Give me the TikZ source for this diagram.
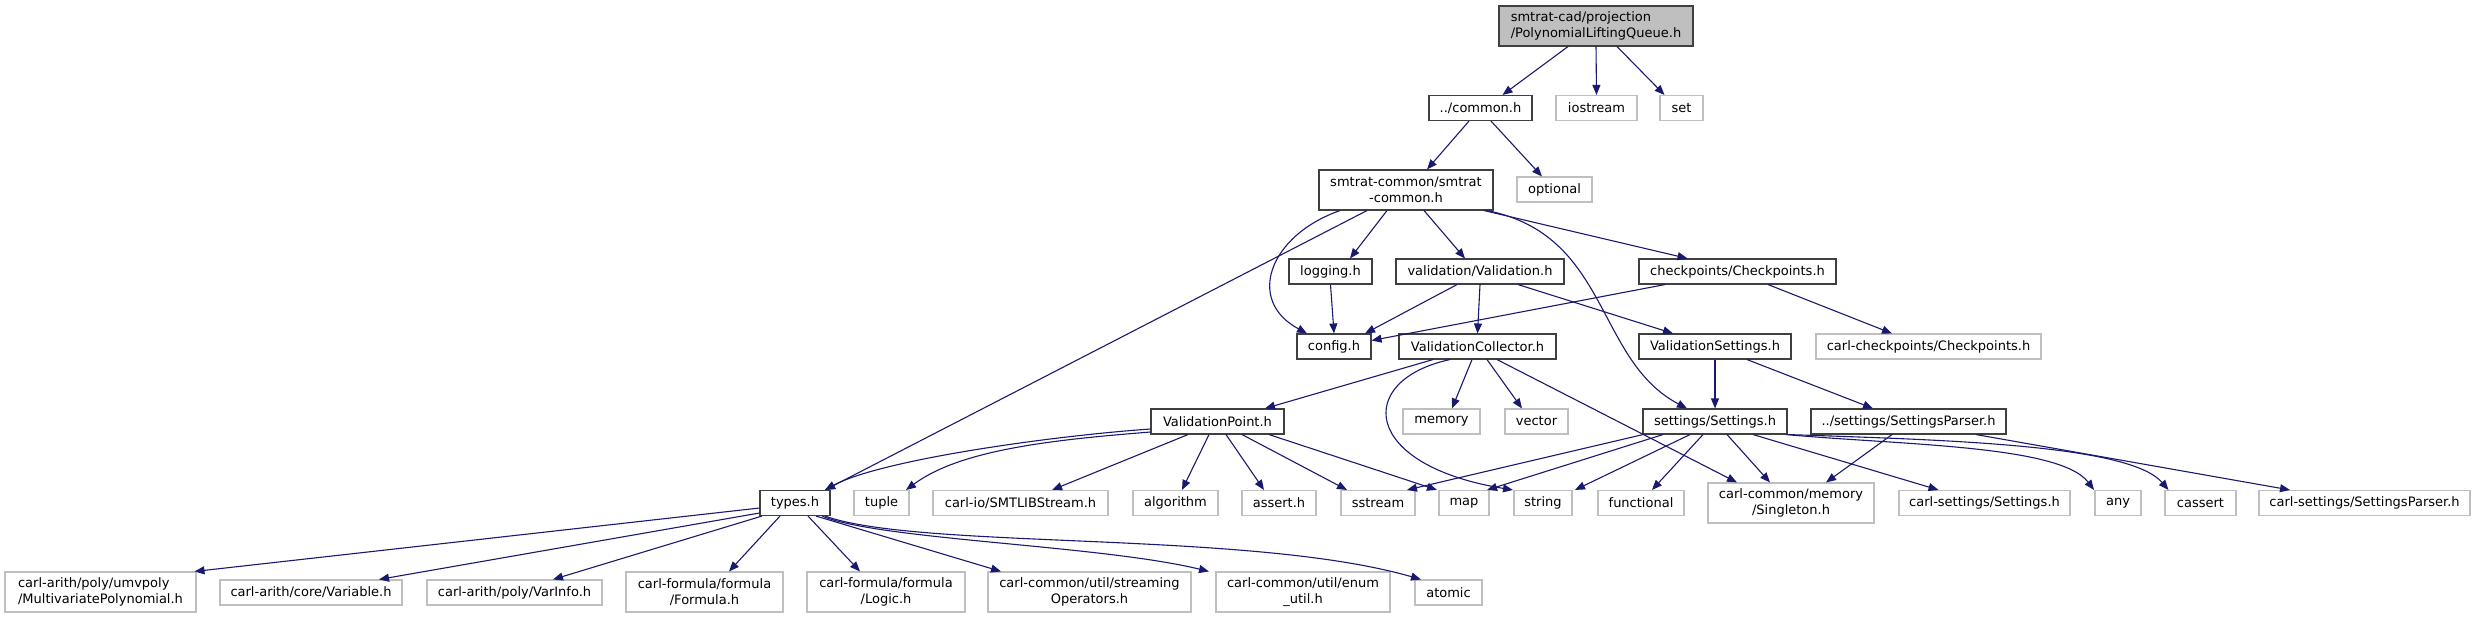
\documentclass[tikz,border=0pt]{standalone}
\usepackage{fontspec}
\setmainfont{DejaVu Sans}
\usetikzlibrary{arrows.meta}
\definecolor{midnight}{HTML}{191970}
\definecolor{boxline}{HTML}{404040}
\definecolor{sysline}{HTML}{BFBFBF}
\begin{document}
\begin{tikzpicture}[x=1pt,y=-1pt,
    font=\fontsize{13}{16}\selectfont,
    hdr/.style={draw=boxline, fill=white, line width=1.1pt, inner sep=0pt, minimum height=25pt, align=center},
    sys/.style={draw=sysline, fill=white, line width=1.1pt, inner sep=0pt, minimum height=25pt, align=center},
    root/.style={hdr, fill=sysline, minimum height=40pt, align=left},
    dep/.style={draw=midnight, line width=1.1pt, -{Triangle[length=10pt,width=8pt]}}]

    \useasboundingbox (0,0) rectangle (2475,619);

    % Root
    \node[root, minimum width=194pt] (plq) at (1596,26) {smtrat-cad/projection\\/PolynomialLiftingQueue.h};
    % Row 1
    \node[hdr, minimum width=103pt] (common) at (1480.5,108) {../common.h};
    \node[sys, minimum width=81pt] (iostream) at (1596.5,108) {iostream};
    \node[sys, minimum width=43pt] (set) at (1681.5,108) {set};
    % Row 2
    \node[hdr, minimum width=174pt, minimum height=40pt] (smtratcommon) at (1406,190) {smtrat-common/smtrat\\-common.h};
    \node[sys, minimum width=75pt] (optional) at (1554.5,189.5) {optional};
    % Row 3
    \node[hdr, minimum width=83pt] (logging) at (1330.5,271.5) {logging.h};
    \node[hdr, minimum width=168pt] (validation) at (1480,271.5) {validation/Validation.h};
    \node[hdr, minimum width=197pt] (checkpoints) at (1737.5,271.5) {checkpoints/Checkpoints.h};
    % Row 4
    \node[hdr, minimum width=74pt] (config) at (1334,346.5) {config.h};
    \node[hdr, minimum width=157pt] (vcollector) at (1477.5,346.5) {ValidationCollector.h};
    \node[hdr, minimum width=152pt] (vsettings) at (1715,346.5) {ValidationSettings.h};
    \node[sys, minimum width=225pt] (carlcheckpoints) at (1928.5,346.5) {carl-checkpoints/Checkpoints.h};
    % Row 5
    \node[hdr, minimum width=133pt] (vpoint) at (1217.5,421.5) {ValidationPoint.h};
    \node[sys, minimum width=77pt] (memory) at (1441.5,421.5) {memory};
    \node[sys, minimum width=63pt] (vector) at (1536.5,421.5) {vector};
    \node[hdr, minimum width=144pt] (settings) at (1715,421.5) {settings/Settings.h};
    \node[hdr, minimum width=195pt] (settingsparser) at (1908.5,421.5) {../settings/SettingsParser.h};
    % Row 6
    \node[hdr, minimum width=70pt] (types) at (795,503) {types.h};
    \node[sys, minimum width=55pt] (tuple) at (881.5,503) {tuple};
    \node[sys, minimum width=175pt] (smtlib) at (1020.5,503) {carl-io/SMTLIBStream.h};
    \node[sys, minimum width=85pt] (algorithm) at (1175.5,503) {algorithm};
    \node[sys, minimum width=74pt] (asserth) at (1279,503) {assert.h};
    \node[sys, minimum width=74pt] (sstream) at (1378,503) {sstream};
    \node[sys, minimum width=50pt] (map) at (1464,503) {map};
    \node[sys, minimum width=58pt] (string) at (1543,503) {string};
    \node[sys, minimum width=86pt] (functional) at (1641,503) {functional};
    \node[sys, minimum width=166pt, minimum height=40pt] (singleton) at (1791,503) {carl-common/memory\\/Singleton.h};
    \node[sys, minimum width=171pt] (carlsettings) at (1984.5,503) {carl-settings/Settings.h};
    \node[sys, minimum width=46pt] (any) at (2118,503) {any};
    \node[sys, minimum width=71pt] (cassert) at (2200.5,503) {cassert};
    \node[sys, minimum width=211pt] (carlsettingsparser) at (2364.5,503) {carl-settings/SettingsParser.h};
    % Row 7
    \node[sys, minimum width=191pt, minimum height=40pt, align=left] (multipoly) at (100.5,592) {carl-arith/poly/umvpoly\\/MultivariatePolynomial.h};
    \node[sys, minimum width=182pt] (variable) at (311,592.5) {carl-arith/core/Variable.h};
    \node[sys, minimum width=175pt] (varinfo) at (514.5,592.5) {carl-arith/poly/VarInfo.h};
    \node[sys, minimum width=157pt, minimum height=40pt] (formula) at (704.5,592) {carl-formula/formula\\/Formula.h};
    \node[sys, minimum width=158pt, minimum height=40pt] (logic) at (886,592) {carl-formula/formula\\/Logic.h};
    \node[sys, minimum width=203pt, minimum height=40pt] (streaming) at (1089.5,592) {carl-common/util/streaming\\Operators.h};
    \node[sys, minimum width=174pt, minimum height=40pt] (enumutil) at (1303,592) {carl-common/util/enum\\\_util.h};
    \node[sys, minimum width=67pt] (atomic) at (1448.5,592.5) {atomic};

    % Root includes
    \draw[dep] ([xshift=-28pt]plq.south) -- ([xshift=22pt]common.north);
    \draw[dep] (plq.south) -- (iostream.north);
    \draw[dep] ([xshift=21pt]plq.south) -- ([xshift=-17pt]set.north);
    % common.h
    \draw[dep] ([xshift=-11.5pt]common.south) -- ([xshift=21pt]smtratcommon.north);
    \draw[dep] ([xshift=10.5pt]common.south) -- ([xshift=-12.5pt]optional.north);
    % smtrat-common.h
    \draw[dep] ([xshift=-66pt]smtratcommon.south) .. controls (1270,235) and (1245,300) .. ([xshift=-27pt]config.north);
    \draw[dep] ([xshift=-39pt]smtratcommon.south) -- ([xshift=30pt]types.north);
    \draw[dep] ([xshift=-19pt]smtratcommon.south) -- ([xshift=19.5pt]logging.north);
    \draw[dep] ([xshift=18pt]smtratcommon.south) -- ([xshift=-15pt]validation.north);
    \draw[dep] ([xshift=81pt]smtratcommon.south) .. controls (1610,235) and (1595,360) .. ([xshift=-28pt]settings.north);
    \draw[dep] ([xshift=78pt]smtratcommon.south) -- ([xshift=-50pt]checkpoints.north);
    % logging, validation, checkpoints
    \draw[dep] (logging.south) -- (config.north);
    \draw[dep] ([xshift=-23pt]validation.south) -- ([xshift=31pt]config.north);
    \draw[dep] (validation.south) -- (vcollector.north);
    \draw[dep] ([xshift=38pt]validation.south) -- ([xshift=-42pt]vsettings.north);
    \draw[dep] ([xshift=-72.5pt]checkpoints.south) -- ([yshift=6pt]config.east);
    \draw[dep] ([xshift=30.5pt]checkpoints.south) -- ([xshift=-36.5pt]carlcheckpoints.north);
    % ValidationCollector.h
    \draw[dep] ([xshift=-44.5pt]vcollector.south) -- ([xshift=47.5pt]vpoint.north);
    \draw[dep] ([xshift=-27.5pt]vcollector.south) .. controls (1355,380) and (1360,465) .. ([xshift=-30pt]string.north);
    \draw[dep] ([xshift=-5.5pt]vcollector.south) -- ([xshift=10.5pt]memory.north);
    \draw[dep] ([xshift=9.5pt]vcollector.south) -- ([xshift=-14.5pt]vector.north);
    \draw[dep] ([xshift=19.5pt]vcollector.south) -- ([xshift=-54pt]singleton.north);
    % ValidationSettings.h
    \draw[dep] (vsettings.south) -- (settings.north);
    \draw[dep] ([xshift=32pt]vsettings.south) -- ([xshift=-35.5pt]settingsparser.north);
    % ValidationPoint.h
    \draw[dep] ([yshift=-7.5pt]vpoint.west) .. controls (1050,436) and (880,460) .. ([xshift=30pt]types.north);
    \draw[dep] ([yshift=-10.5pt]vpoint.west) .. controls (1050,440) and (960,450) .. ([xshift=24.5pt]tuple.north);
    \draw[dep] ([xshift=-29.5pt]vpoint.south) -- ([xshift=31.5pt]smtlib.north);
    \draw[dep] ([xshift=-8.5pt]vpoint.south) -- ([xshift=6.5pt]algorithm.north);
    \draw[dep] ([xshift=8.5pt]vpoint.south) -- ([xshift=-15pt]asserth.north);
    \draw[dep] ([xshift=24.5pt]vpoint.south) -- ([xshift=-31pt]sstream.north);
    \draw[dep] ([xshift=51.5pt]vpoint.south) -- ([xshift=-27pt]map.north);
    % Settings.h
    \draw[dep] ([xshift=-72pt]settings.south) -- ([xshift=29pt]sstream.north);
    \draw[dep] ([xshift=-52pt]settings.south) -- ([xshift=23pt]map.north);
    \draw[dep] ([xshift=-25pt]settings.south) -- ([xshift=32pt]string.north);
    \draw[dep] ([xshift=-12pt]settings.south) -- ([xshift=11pt]functional.north);
    \draw[dep] ([xshift=12pt]settings.south) -- ([xshift=-21pt]singleton.north);
    \draw[dep] ([xshift=38pt]settings.south) -- ([xshift=-46pt]carlsettings.north);
    \draw[dep] ([xshift=71pt]settings.south) .. controls (1900,445) and (2060,445) .. ([xshift=-24pt]any.north);
    \draw[dep] (settings.south east) .. controls (1950,440) and (2130,445) .. ([xshift=-32pt]cassert.north);
    % SettingsParser.h
    \draw[dep] ([xshift=-16.5pt]settingsparser.south) -- ([xshift=35pt]singleton.north);
    \draw[dep] ([xshift=67.5pt]settingsparser.south) -- ([xshift=-74.5pt]carlsettingsparser.north);
    % types.h
    \draw[dep] ([yshift=-5pt]types.west) -- ([xshift=94pt]multipoly.north);
    \draw[dep] ([yshift=-10pt]types.west) -- ([xshift=68pt]variable.north);
    \draw[dep] ([xshift=-33pt]types.south) -- ([xshift=38.5pt]varinfo.north);
    \draw[dep] ([xshift=-15pt]types.south) -- ([xshift=24.5pt]formula.north);
    \draw[dep] ([xshift=13pt]types.south) -- ([xshift=-26pt]logic.north);
    \draw[dep] ([xshift=21pt]types.south) -- ([xshift=-88.5pt]streaming.north);
    \draw[dep] ([xshift=27pt]types.south) .. controls (880,540) and (1100,545) .. ([xshift=-94pt]enumutil.north);
    \draw[dep] ([xshift=30pt]types.south) .. controls (920,550) and (1250,530) .. ([xshift=-27.5pt]atomic.north);

\end{tikzpicture}
\end{document}
